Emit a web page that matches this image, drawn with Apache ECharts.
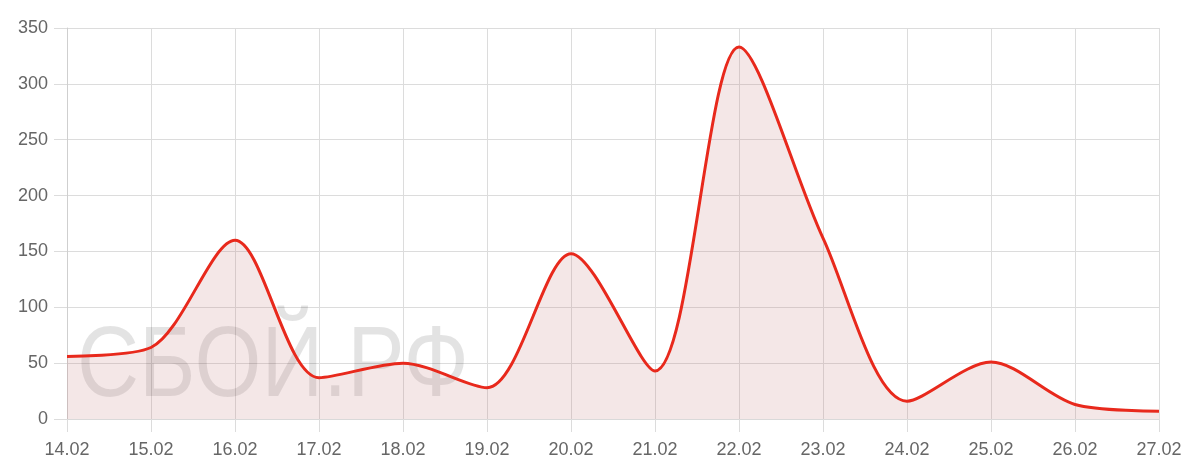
<!DOCTYPE html>
<html><head><meta charset="utf-8">
<script src="https://cdn.jsdelivr.net/npm/echarts@6/dist/echarts.min.js"></script>
<style>html,body{margin:0;padding:0;background:#fff}#c{width:1200px;height:469px}</style>
</head><body><div id="c"></div>
<script>
var categories = ['14.02','15.02','16.02','17.02','18.02','19.02','20.02','21.02','22.02','23.02','24.02','25.02','26.02','27.02'];
var values = [56, 64, 160, 37, 50, 28, 148, 43, 333, 162, 16, 51, 13, 7];
var yTicks = [0, 50, 100, 150, 200, 250, 300, 350];
var watermark = 'СБОЙ.РФ';

var chart = echarts.init(document.getElementById('c'));
chart.setOption({
  animation: false,
  grid: {left: 67, right: 41, top: 28, bottom: 50, containLabel: false},
  graphic: [{type: 'text', x: 77, y: 318, scaleX: 0.86, z: 1, silent: true,
    style: {text: watermark, fontSize: 100, fontFamily: 'Liberation Sans, Arial, sans-serif', fill: 'rgba(0,0,0,0.11)'}}],
  xAxis: {type: 'category', data: categories, boundaryGap: false,
    axisLine: {show: true, lineStyle: {color: '#d9d9d9'}},
    axisTick: {show: true, length: 13, lineStyle: {color: '#dcdcdc'}},
    splitLine: {show: true, lineStyle: {color: '#dcdcdc'}},
    axisLabel: {color: '#666', fontSize: 18, margin: 22, fontFamily: 'Liberation Sans, Arial, sans-serif'}},
  yAxis: {type: 'value', min: yTicks[0], max: yTicks[yTicks.length-1], interval: 50,
    axisLine: {show: true, lineStyle: {color: '#cfcfcf'}},
    axisTick: {show: true, length: 13, lineStyle: {color: '#dcdcdc'}},
    splitLine: {show: true, lineStyle: {color: '#dcdcdc'}},
    axisLabel: {color: '#666', fontSize: 18, margin: 19, fontFamily: 'Liberation Sans, Arial, sans-serif'}},
  series: [{type: 'line', data: values, smooth: 0.3, symbol: 'none', z: 3,
    lineStyle: {color: '#e8291c', width: 3},
    areaStyle: {color: 'rgba(190,120,120,0.25)'}}]
});
</script></body></html>
